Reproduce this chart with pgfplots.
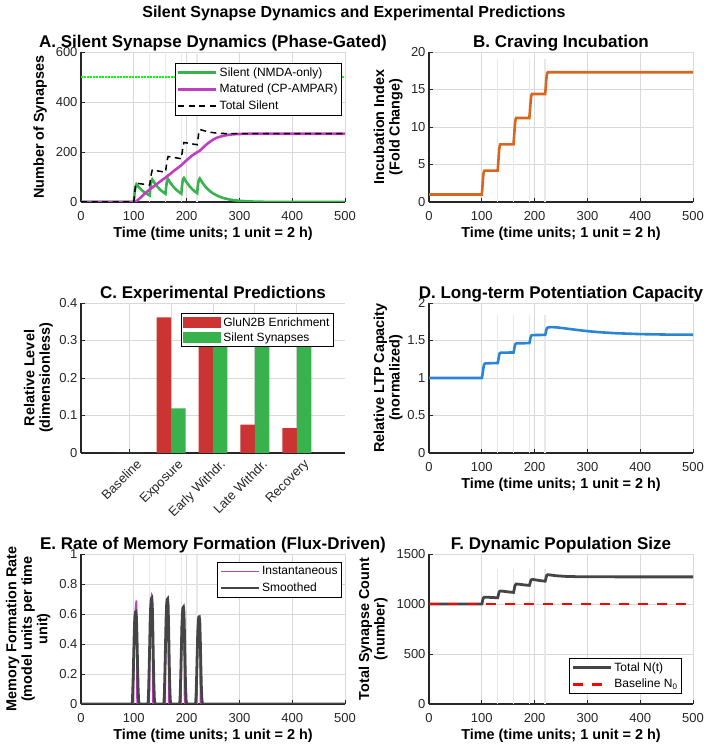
\documentclass[border=0pt]{standalone}
\usepackage{fontspec}
\setmainfont{Liberation Sans}
\usepackage{pgfplots}
\pgfplotsset{compat=1.18}

\definecolor{cgreen}{rgb}{0.22,0.70,0.30}
\definecolor{cmag}{rgb}{0.75,0.25,0.75}
\definecolor{corange}{rgb}{0.85,0.40,0.12}
\definecolor{cblue}{rgb}{0.16,0.52,0.84}
\definecolor{cred}{rgb}{0.80,0.20,0.20}
\definecolor{cdark}{rgb}{0.27,0.27,0.27}
\definecolor{faint}{rgb}{0.91,0.91,0.91}
\definecolor{axcol}{rgb}{0.15,0.15,0.15}

\pgfplotsset{
  panel/.style={
    scale only axis, width=264pt, height=150pt,
    axis lines*=left,
    axis line style={-, line width=1.2pt, color=axcol},
    every tick/.style={line width=0.8pt, color=axcol},
    major tick length=4pt,
    tick align=inside,
    grid=major,
    grid style={line width=0.9pt, color=black!15},
    ticklabel style={font=\fontsize{13}{15}\selectfont, color=axcol},
    /pgf/number format/assume math mode=true,
    /pgf/number format/1000 sep={},
    scaled ticks=false,
    title style={at={(0.5,1)}, anchor=base, yshift=-2pt, font=\bfseries\fontsize{17}{20}\selectfont},
    label style={font=\bfseries\fontsize{14.4}{15.5}\selectfont, color=black, align=center},
    xlabel style={at={(axis description cs:0.5,0)}, anchor=center, yshift=-32pt},
    legend style={font=\fontsize{12}{13.5}\selectfont, draw=black, line width=0.9pt, fill=white, inner sep=2pt, row sep=2.5pt},
    legend cell align=left,
    legend image code/.code={\draw[##1] (0pt,0pt) -- (38pt,0pt);},
  },
  timeaxis/.style={panel, xmin=0, xmax=500, xtick={0,100,...,500},
    xticklabel style={yshift=-6pt},
    xlabel={Time (time units; 1 unit = 2 h)}},
  barleg/.style={legend image code/.code={\fill[##1,/tikz/.cd] (0pt,-5.5pt) rectangle (38pt,5.5pt);}},
  pulse/.style={faint, line width=1.6pt, forget plot},
}

\begin{document}
\begin{tikzpicture}[x=1pt,y=1pt]
\useasboundingbox (0,0) rectangle (708,749);

\node[font=\bfseries\fontsize{16}{19}\selectfont] at (354,736) {Silent Synapse Dynamics and Experimental Predictions};

% ---------------- A ----------------
\begin{axis}[timeaxis, at={(81pt,547pt)}, anchor=south west,
  ymin=0, ymax=600, ytick={0,200,400,600},
  title={A. Silent Synapse Dynamics (Phase-Gated)},
  ylabel={Number of Synapses},
  ylabel style={at={(axis description cs:-0.155,0.5)}, anchor=center},
  legend style={at={(0.9886,0.9267)}, anchor=north east}]
\addplot[pulse] coordinates {(130,0)(130,590)};
\addplot[pulse] coordinates {(160,0)(160,590)};
\addplot[pulse] coordinates {(190,0)(190,590)};
\addplot[pulse] coordinates {(220,0)(220,590)};
\addplot[color={rgb,1:red,0;green,1;blue,0}, line width=1.3pt, dash pattern=on 1.5pt off 1.5pt, forget plot] coordinates {(0,500)(500,500)};
\addplot[cgreen, line width=2.6pt] coordinates {
(0,0)(100,0)(101,25)(102,45)(103,58)(104,66)(105,71)(110,58.1)(115,47.6)(120,39.0)(125,31.9)(130,26.1)
(131,50)(132,68)(133,80)(134,86)(135,90)(140,73.7)(145,60.3)(150,49.4)(155,40.4)(160,33.1)
(161,55)(162,72)(163,83)(164,88)(165,91)(170,74.5)(175,61.0)(180,49.9)(185,40.9)(190,33.5)
(191,58)(192,76)(193,88)(194,93)(195,96)(200,78.6)(205,64.4)(210,52.7)(215,43.1)(220,35.3)
(221,58)(222,75)(223,86)(224,91)(225,94)(230,77.0)(235,63.0)(240,51.6)(245,42.2)(250,34.6)
(260,23.2)(270,15.5)(280,10.4)(290,7.0)(300,4.7)(320,2.1)(340,0.9)(360,0.4)(400,0.1)(500,0)};
\addlegendentry{Silent (NMDA-only)}
\addplot[cmag, line width=2.6pt] coordinates {
(0,0)(100,0)(103,1)(106,5)(110,12)(115,22)(120,32)(125,41)(130,50)(135,58)(140,66)(145,74)
(150,82)(155,90)(160,97)(165,106)(170,114)(175,123)(180,131)(185,139)(190,147)(195,157)
(200,167)(205,176)(210,185)(215,192)(220,199)(225,205)(230,215)(235,225)(240,234)(245,242)
(250,249)(255,255)(260,259)(270,265)(280,269)(290,271)(300,272)(320,273)(500,273)};
\addlegendentry{Matured (CP-AMPAR)}
\addplot[black, line width=1.5pt, dash pattern=on 6pt off 4.5pt] coordinates {
(0,0)(100,0)(103,60)(105,75)(130,68)(133,110)(135,128)(160,119)(163,165)(165,182)(190,173)
(193,220)(195,238)(220,229)(223,275)(225,290)(235,284)(245,279)(255,276)(270,274)(300,273)(500,273)};
\addlegendentry{Total Silent}
\end{axis}

% ---------------- B ----------------
\begin{axis}[timeaxis, at={(429pt,547pt)}, anchor=south west,
  ymin=0, ymax=20, ytick={0,5,10,15,20},
  title={B. Craving Incubation},
  ylabel={Incubation Index\\(Fold Change)},
  ylabel style={at={(axis description cs:-0.155,0.5)}, anchor=center}]
\addplot[pulse] coordinates {(130,0)(130,19)};
\addplot[pulse] coordinates {(160,0)(160,19)};
\addplot[pulse] coordinates {(190,0)(190,19)};
\addplot[pulse] coordinates {(220,0)(220,19)};
\addplot[corange, line width=2.6pt] coordinates {
(0,1)(100,1)(101,1.8)(102,2.9)(103,3.7)(104,4.05)(105,4.18)(130,4.18)(131,5.0)(132,6.1)(133,7.0)
(134,7.5)(135,7.69)(160,7.69)(161,8.6)(162,9.6)(163,10.5)(164,11.0)(165,11.2)(190,11.2)(191,12.0)
(192,13.0)(193,13.8)(194,14.25)(195,14.4)(220,14.4)(221,15.2)(222,16.2)(223,16.9)(224,17.2)(225,17.3)(500,17.3)};
\end{axis}

% ---------------- C ----------------
\begin{axis}[panel, at={(81pt,296pt)}, anchor=south west,
  xmin=-0.15, xmax=6.15, xtick={1,2,3,4,5},
  xticklabels={Baseline,Exposure,Early Withdr.,Late Withdr.,Recovery},
  xticklabel style={rotate=45, anchor=north east, xshift=4pt, yshift=-5pt},
  ymin=0, ymax=0.4, ytick={0,0.1,0.2,0.3,0.4},
  title={C. Experimental Predictions},
  ylabel={Relative Level\\(dimensionless)},
  ylabel style={at={(axis description cs:-0.161,0.5)}, anchor=center},
  legend style={at={(0.958,0.933)}, anchor=north east, row sep=1pt}]
\addplot[ybar, fill=cred, draw=none, bar width=0.345, bar shift=-0.1725, barleg] coordinates {
(1,0)(2,0.3616)(3,0.33)(4,0.0759)(5,0.066)};
\addlegendentry{GluN2B Enrichment}
\addplot[ybar, fill=cgreen, draw=none, bar width=0.345, bar shift=0.1725, barleg] coordinates {
(1,0)(2,0.119)(3,0.345)(4,0.34)(5,0.33)};
\addlegendentry{Silent Synapses}
\end{axis}

% ---------------- D ----------------
\begin{axis}[timeaxis, at={(429pt,296pt)}, anchor=south west,
  ymin=0, ymax=2, ytick={0,0.5,1,1.5,2},
  title={D. Long-term Potentiation Capacity},
  ylabel={Relative LTP Capacity\\(normalized)},
  ylabel style={at={(axis description cs:-0.155,0.5)}, anchor=center}]
\addplot[pulse] coordinates {(130,0)(130,1.84)};
\addplot[pulse] coordinates {(160,0)(160,1.84)};
\addplot[pulse] coordinates {(190,0)(190,1.84)};
\addplot[pulse] coordinates {(220,0)(220,1.84)};
\addplot[cblue, line width=2.6pt] coordinates {
(0,1)(100,1)(101,1.03)(102,1.08)(103,1.13)(104,1.17)(105,1.185)(107,1.195)(130,1.2)(131,1.23)(132,1.27)
(133,1.31)(134,1.33)(136,1.338)(160,1.34)(161,1.37)(162,1.41)(163,1.44)(164,1.455)(166,1.462)(190,1.465)
(191,1.49)(192,1.53)(193,1.555)(194,1.567)(196,1.572)(220,1.575)(221,1.60)(222,1.635)(223,1.658)(224,1.668)
(226,1.675)(232,1.679)(240,1.676)(250,1.668)(260,1.659)(270,1.650)(280,1.641)(300,1.625)(320,1.612)
(350,1.598)(400,1.585)(450,1.579)(500,1.577)};
\end{axis}

% ---------------- E ----------------
\begin{axis}[timeaxis, at={(81pt,45pt)}, anchor=south west,
  ymin=0, ymax=1, ytick={0,0.2,0.4,0.6,0.8,1},
  title={E. Rate of Memory Formation (Flux-Driven)},
  ylabel={Memory Formation Rate\\(model units per time\\unit)},
  ylabel style={at={(axis description cs:-0.20,0.5)}, anchor=center},
  legend style={at={(0.9886,0.946)}, anchor=north east}]
\addplot[pulse] coordinates {(130,0)(130,0.99)};
\addplot[pulse] coordinates {(160,0)(160,0.99)};
\addplot[pulse] coordinates {(190,0)(190,0.99)};
\addplot[pulse] coordinates {(220,0)(220,0.99)};
\addplot[cmag, line width=1.6pt] coordinates {
(0,0)(99.5,0)(100,0.25)(101,0.45)(102,0.57)(103,0.63)(104,0.67)(105,0.69)(105.6,0.45)(106.2,0)
(129.5,0)(130,0.3)(131,0.55)(132,0.66)(133,0.71)(134,0.728)(135,0.72)(135.6,0.45)(136.2,0)
(159.5,0)(160,0.3)(161,0.58)(162,0.67)(163,0.70)(164,0.70)(165,0.68)(165.6,0.4)(166.2,0)
(189.5,0)(190,0.3)(191,0.55)(192,0.63)(193,0.647)(194,0.645)(195,0.62)(195.6,0.35)(196.2,0)
(219.5,0)(220,0.28)(221,0.5)(222,0.57)(223,0.583)(224,0.58)(225,0.55)(225.6,0.3)(226.2,0)(500,0)};
\addlegendentry{Instantaneous}
\addplot[cdark, line width=2.8pt] coordinates {
(0,0)(97,0)(98,0.08)(99,0.2)(100,0.35)(101,0.5)(102,0.58)(103,0.612)(104,0.615)(105,0.58)(106,0.45)(107,0.28)(108,0.12)(109,0.03)(110,0)
(127,0)(128,0.08)(129,0.22)(130,0.38)(131,0.55)(132,0.65)(133,0.70)(134,0.705)(135,0.66)(136,0.5)(137,0.3)(138,0.13)(139,0.03)(140,0)
(157,0)(158,0.08)(159,0.22)(160,0.38)(161,0.55)(162,0.65)(163,0.695)(164,0.70)(165,0.66)(166,0.5)(167,0.3)(168,0.13)(169,0.03)(170,0)
(187,0)(188,0.07)(189,0.2)(190,0.35)(191,0.51)(192,0.6)(193,0.64)(194,0.645)(195,0.61)(196,0.46)(197,0.28)(198,0.12)(199,0.03)(200,0)
(217,0)(218,0.06)(219,0.18)(220,0.32)(221,0.46)(222,0.54)(223,0.578)(224,0.58)(225,0.55)(226,0.42)(227,0.25)(228,0.11)(229,0.03)(230,0)
(500,0)};
\addlegendentry{Smoothed}
\end{axis}

% ---------------- F ----------------
\begin{axis}[timeaxis, at={(429pt,45pt)}, anchor=south west,
  ymin=0, ymax=1500, ytick={0,500,1000,1500},
  title={F. Dynamic Population Size},
  ylabel={Total Synapse Count\\(number)},
  ylabel style={at={(axis description cs:-0.212,0.5)}, anchor=center},
  legend style={at={(0.958,0.067)}, anchor=south east}]
\addplot[pulse] coordinates {(130,0)(130,1350)};
\addplot[pulse] coordinates {(160,0)(160,1350)};
\addplot[pulse] coordinates {(190,0)(190,1350)};
\addplot[pulse] coordinates {(220,0)(220,1350)};
\addplot[cdark, line width=2.8pt] coordinates {
(0,1000)(100,1000)(101,1020)(102,1045)(103,1060)(105,1068)(110,1068)(120,1065)(130,1062)(131,1080)
(132,1105)(133,1122)(135,1130)(140,1128)(150,1121)(160,1116)(161,1135)(162,1165)(163,1185)(165,1200)
(170,1198)(180,1191)(190,1186)(191,1200)(192,1222)(193,1238)(195,1245)(200,1243)(210,1234)(220,1228)
(221,1245)(222,1270)(223,1286)(225,1293)(230,1290)(240,1283)(250,1279)(260,1276)(280,1273)(300,1272)
(400,1271)(500,1271)};
\addlegendentry{Total N(t)}
\addplot[red, line width=2.4pt, dash pattern=on 10pt off 9pt] coordinates {(0,1000)(500,1000)};
\addlegendentry{Baseline N\textsubscript{0}}
\end{axis}
\end{tikzpicture}
\end{document}
